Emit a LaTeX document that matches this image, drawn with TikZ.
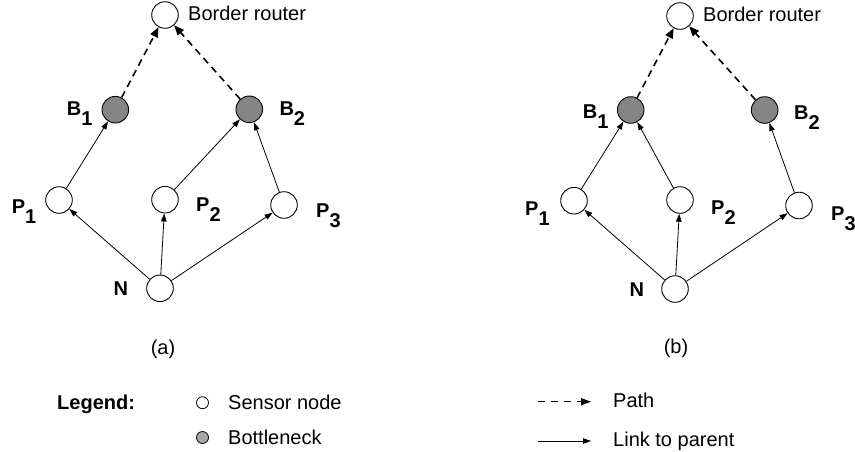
\documentclass[tikz,border=0pt]{standalone}
\usepackage{fontspec}
\setmainfont{Liberation Sans}
\usetikzlibrary{arrows.meta}
\begin{document}
\begin{tikzpicture}[x=1pt,y=-1pt,
  font=\fontsize{20}{24}\selectfont,
  sensor/.style={circle,draw,line width=0.9pt,fill=white,minimum size=26.6pt,inner sep=0pt},
  bneck/.style={sensor,fill=black!48},
  link/.style={line width=0.8pt,-{Triangle[length=8pt,width=5.5pt]}},
  pathar/.style={line width=1.6pt,dash pattern=on 7pt off 5pt,-{Triangle[length=10pt,width=8pt]}},
  lbl/.style={anchor=base west,inner sep=0pt,font=\fontsize{20}{24}\selectfont\bfseries},
  txt/.style={anchor=base west,inner sep=0pt},
  legc/.style={circle,draw,line width=0.8pt,minimum size=12pt,inner sep=0pt}]
\useasboundingbox (0,0) rectangle (855,451);
\newcommand{\sublbl}[2]{#1\raisebox{-10pt}{#2}}
% ---------- panel (a)
\node[sensor] (aBR) at (165,15) {};
\node[bneck] (aB1) at (115.3,109.7) {};
\node[bneck] (aB2) at (249.3,109.3) {};
\node[sensor] (aP1) at (59,200) {};
\node[sensor] (aP2) at (165,199.7) {};
\node[sensor] (aP3) at (284,205) {};
\node[sensor] (aN) at (160,288.3) {};
\node[txt] (aBRt) at (188,20.7) {Border router};
\node[lbl] (aB1t) at (66.7,115) {\sublbl{B}{1}};
\node[lbl] (aB2t) at (279.3,115) {\sublbl{B}{2}};
\node[lbl] (aP1t) at (11.7,213.3) {\sublbl{P}{1}};
\node[lbl] (aP2t) at (196,211.7) {\sublbl{P}{2}};
\node[lbl] (aP3t) at (316,217.3) {\sublbl{P}{3}};
\node[lbl] (aNt) at (113.3,295) {N};
\draw[pathar] (aB1) -- (aBR);
\draw[pathar] (aB2) -- (aBR);
\draw[link] (aP1) -- (aB1);
\draw[link] (aP2) -- (aB2);
\draw[link] (aP3) -- (aB2);
\draw[link] (aN) -- (aP1);
\draw[link] (aN) -- (aP2);
\draw[link] (aN) -- (aP3);
\node (acap) at (163,349) {(a)};
% ---------- panel (b)
\node[sensor] (bBR) at (680,16) {};
\node[bneck] (bB1) at (630.7,110) {};
\node[bneck] (bB2) at (764.7,110) {};
\node[sensor] (bP1) at (574,200.7) {};
\node[sensor] (bP2) at (680,200) {};
\node[sensor] (bP3) at (799,205.5) {};
\node[sensor] (bN) at (675,289) {};
\node[txt] (bBRt) at (703,21.7) {Border router};
\node[lbl] (bB1t) at (582.7,118.3) {\sublbl{B}{1}};
\node[lbl] (bB2t) at (794,119) {\sublbl{B}{2}};
\node[lbl] (bP1t) at (525,215) {\sublbl{P}{1}};
\node[lbl] (bP2t) at (711,214.5) {\sublbl{P}{2}};
\node[lbl] (bP3t) at (831,220) {\sublbl{P}{3}};
\node[lbl] (bNt) at (629.3,296) {N};
\draw[pathar] (bB1) -- (bBR);
\draw[pathar] (bB2) -- (bBR);
\draw[link] (bP1) -- (bB1);
\draw[link] (bP2) -- (bB1);
\draw[link] (bP3) -- (bB2);
\draw[link] (bN) -- (bP1);
\draw[link] (bN) -- (bP2);
\draw[link] (bN) -- (bP3);
\node (bcap) at (676,348) {(b)};
% ---------- legend
\node[lbl] (legend) at (57,409.3) {Legend:};
\node[legc,fill=white] (lsens) at (202.5,402.7) {};
\node[txt] (lsenst) at (228,409.3) {Sensor node};
\node[legc,fill=black!35] (lbn) at (202.5,437.5) {};
\node[txt] (lbnt) at (228,444.5) {Bottleneck};
\coordinate (lp1) at (538,401.7);
\coordinate (lp2) at (591,401.7);
\draw[line width=1.4pt,dash pattern=on 7pt off 6pt,-{Triangle[length=10pt,width=7pt]}] (lp1) -- (lp2);
\node[txt] (lpt) at (613,407.3) {Path};
\coordinate (ll1) at (538,441);
\coordinate (ll2) at (591,441);
\draw[link] (ll1) -- (ll2);
\node[txt] (llt) at (613,446.5) {Link to parent};
\end{tikzpicture}
\end{document}
